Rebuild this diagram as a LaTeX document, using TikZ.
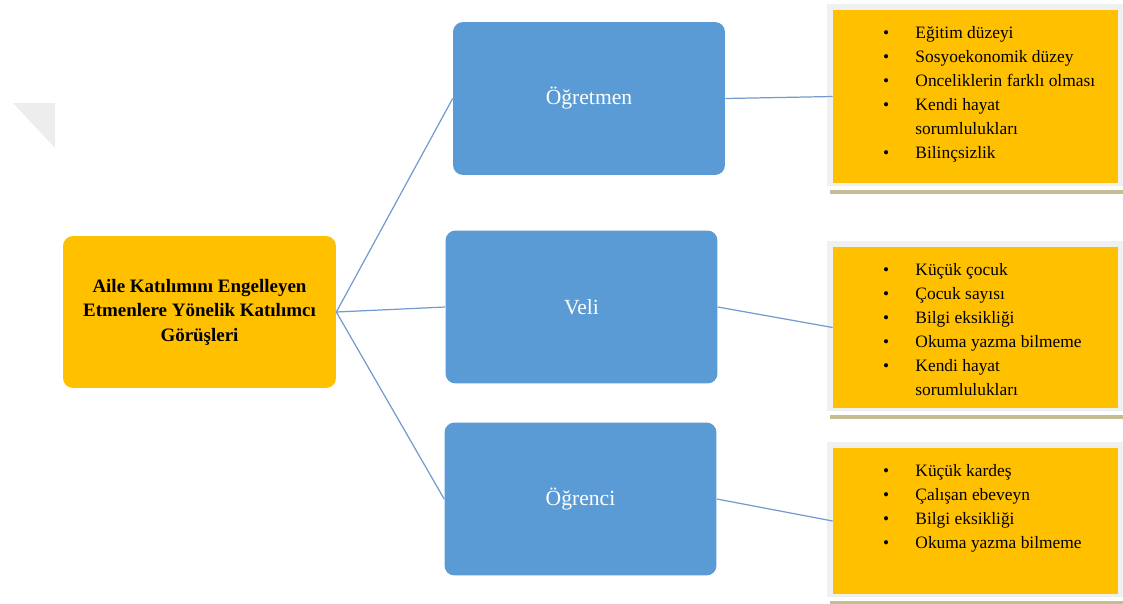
\documentclass[tikz,border=0pt]{standalone}
\usepackage{fontspec}
\setmainfont{Liberation Serif}
\usepackage{tikz}
\usetikzlibrary{calc,backgrounds}

\definecolor{boxorange}{RGB}{255,192,0}
\definecolor{boxblue}{RGB}{91,155,213}
\definecolor{linkblue}{RGB}{115,155,208}
\definecolor{framegray}{RGB}{240,240,240}
\definecolor{shadowtan}{RGB}{200,188,145}

\begin{document}
\begin{tikzpicture}[x=0.02cm,y=-0.02cm,
	rootbox/.style={shape=rectangle, fill=boxorange, rounded corners=0.2cm, minimum width=5.46cm, minimum height=3.04cm, align=center, font=\fontsize{10.8}{14}\selectfont\bfseries},
	rolebox/.style={shape=rectangle, fill=boxblue, rounded corners=0.2cm, minimum width=5.44cm, minimum height=3.06cm, text=white, font=\fontsize{12.3}{14}\selectfont},
	listbox/.style={shape=rectangle, fill=boxorange, minimum width=5.7cm, inner sep=0pt},
	listtext/.style={anchor=north west, inner sep=0pt, font=\fontsize{9.9}{13.6}\selectfont},
	link/.style={draw=linkblue, line width=0.7pt}]
	\useasboundingbox (0,0) rectangle (1123,603);

	\fill[gray!14] (13,103) -- (55,103) -- (55,148) -- cycle;

	\node[rootbox] (root) at (199.5,312) {Aile Katılımını Engelleyen\\Etmenlere Yönelik Katılımcı\\Görüşleri};

	\node[rolebox] (ogretmen) at (589,98.5)  {Öğretmen};
	\node[rolebox] (veli)     at (581.5,307) {Veli};
	\node[rolebox] (ogrenci)  at (580.5,499) {Öğrenci};

	\node[listbox, minimum height=3.46cm] (l1) at (975.5,96.5) {};
	\node[listbox, minimum height=3.22cm] (l2) at (975.5,327.5) {};
	\node[listbox, minimum height=2.92cm] (l3) at (975.5,521) {};

	\begin{scope}[on background layer]
		\foreach \n in {l1,l2,l3} {
			\fill[framegray] ($(\n.north west)+(-6,-6)$) rectangle ($(\n.south east)+(5,3)$);
			\fill[shadowtan] ($(\n.south west)+(-3,7)$) rectangle ($(\n.south east)+(5,11)$);
		}
	\end{scope}

	\node[listtext] (t1) at ($(l1.north west)+(50,12)$) {%
		\begin{tabular}{@{}l@{\hspace{15pt}}l@{}}
			\textbullet & Eğitim düzeyi\\
			\textbullet & Sosyoekonomik düzey\\
			\textbullet & Onceliklerin farklı olması\\
			\textbullet & Kendi hayat\\
			            & sorumlulukları\\
			\textbullet & Bilinçsizlik
		\end{tabular}};
	\node[listtext] (t2) at ($(l2.north west)+(50,12)$) {%
		\begin{tabular}{@{}l@{\hspace{15pt}}l@{}}
			\textbullet & Küçük çocuk\\
			\textbullet & Çocuk sayısı\\
			\textbullet & Bilgi eksikliği\\
			\textbullet & Okuma yazma bilmeme\\
			\textbullet & Kendi hayat\\
			            & sorumlulukları
		\end{tabular}};
	\node[listtext] (t3) at ($(l3.north west)+(50,12)$) {%
		\begin{tabular}{@{}l@{\hspace{15pt}}l@{}}
			\textbullet & Küçük kardeş\\
			\textbullet & Çalışan ebeveyn\\
			\textbullet & Bilgi eksikliği\\
			\textbullet & Okuma yazma bilmeme
		\end{tabular}};

	\path [link] (root.east) edge (ogretmen.west);
	\path [link] (root.east) edge (veli.west);
	\path [link] (root.east) edge (ogrenci.west);
	\path [link] (ogretmen.east) edge (l1.west);
	\path [link] (veli.east) edge (l2.west);
	\path [link] (ogrenci.east) edge (l3.west);
\end{tikzpicture}
\end{document}
